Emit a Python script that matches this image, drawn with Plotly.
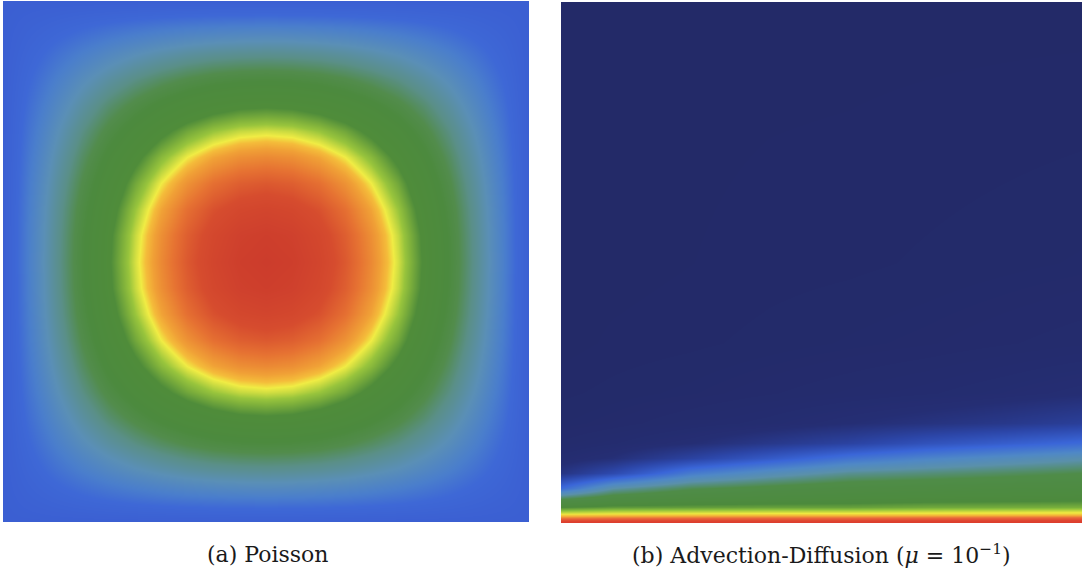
import plotly.graph_objects as go

W, H = 1082, 573

# ---------------- (a) Poisson: normalised solution u/u_max on the unit square
poisson_x = [0, .05, .10, .15, .20, .25, .30, .35, .40, .45, .50, .55, .60, .65, .70, .75, .80, .85, .90, .95, 1.0]
poisson_y = [0, .05, .10, .15, .20, .25, .30, .35, .40, .45, .50, .55, .60, .65, .70, .75, .80, .85, .90, .95, 1.0]
poisson_u = [
    [0, 0,    0,    0,    0,    0,    0,    0,    0,    0,    0,    0,    0,    0,    0,    0,    0,    0,    0,    0,    0],
    [0, .036, .068, .097, .122, .143, .160, .173, .182, .188, .190, .188, .182, .173, .160, .143, .122, .097, .068, .036, 0],
    [0, .068, .130, .184, .230, .270, .302, .328, .346, .356, .360, .356, .346, .328, .302, .270, .230, .184, .130, .068, 0],
    [0, .097, .184, .260, .326, .383, .428, .464, .490, .505, .510, .505, .490, .464, .428, .383, .326, .260, .184, .097, 0],
    [0, .122, .230, .326, .410, .480, .538, .582, .614, .634, .640, .634, .614, .582, .538, .480, .410, .326, .230, .122, 0],
    [0, .143, .270, .383, .480, .563, .630, .683, .720, .743, .750, .743, .720, .683, .630, .563, .480, .383, .270, .143, 0],
    [0, .160, .302, .428, .538, .630, .706, .764, .806, .832, .840, .832, .806, .764, .706, .630, .538, .428, .302, .160, 0],
    [0, .173, .328, .464, .582, .683, .764, .828, .874, .901, .910, .901, .874, .828, .764, .683, .582, .464, .328, .173, 0],
    [0, .182, .346, .490, .614, .720, .806, .874, .922, .950, .960, .950, .922, .874, .806, .720, .614, .490, .346, .182, 0],
    [0, .188, .356, .505, .634, .743, .832, .901, .950, .980, .990, .980, .950, .901, .832, .743, .634, .505, .356, .188, 0],
    [0, .190, .360, .510, .640, .750, .840, .910, .960, .990, 1.00, .990, .960, .910, .840, .750, .640, .510, .360, .190, 0],
    [0, .188, .356, .505, .634, .743, .832, .901, .950, .980, .990, .980, .950, .901, .832, .743, .634, .505, .356, .188, 0],
    [0, .182, .346, .490, .614, .720, .806, .874, .922, .950, .960, .950, .922, .874, .806, .720, .614, .490, .346, .182, 0],
    [0, .173, .328, .464, .582, .683, .764, .828, .874, .901, .910, .901, .874, .828, .764, .683, .582, .464, .328, .173, 0],
    [0, .160, .302, .428, .538, .630, .706, .764, .806, .832, .840, .832, .806, .764, .706, .630, .538, .428, .302, .160, 0],
    [0, .143, .270, .383, .480, .563, .630, .683, .720, .743, .750, .743, .720, .683, .630, .563, .480, .383, .270, .143, 0],
    [0, .122, .230, .326, .410, .480, .538, .582, .614, .634, .640, .634, .614, .582, .538, .480, .410, .326, .230, .122, 0],
    [0, .097, .184, .260, .326, .383, .428, .464, .490, .505, .510, .505, .490, .464, .428, .383, .326, .260, .184, .097, 0],
    [0, .068, .130, .184, .230, .270, .302, .328, .346, .356, .360, .356, .346, .328, .302, .270, .230, .184, .130, .068, 0],
    [0, .036, .068, .097, .122, .143, .160, .173, .182, .188, .190, .188, .182, .173, .160, .143, .122, .097, .068, .036, 0],
    [0, 0,    0,    0,    0,    0,    0,    0,    0,    0,    0,    0,    0,    0,    0,    0,    0,    0,    0,    0,    0],
]

# ---------------- (b) Advection-Diffusion (mu = 1e-1): boundary layer on the bottom wall
adv_x = [0, 0.1, 0.25, 0.4, 0.55, 0.7, 0.85, 1.0]
adv_y = [0, 0.006, 0.012, 0.019, 0.031, 0.048, 0.067, 0.096, 0.125, 0.154, 0.192, 0.25, 0.345, 0.5, 1.0]
adv_u = [
    [1.00, 1.00, 1.00, 1.00, 1.00, 1.00, 1.00, 1.00],
    [0.91, 0.915, 0.92, 0.92, 0.92, 0.925, 0.925, 0.93],
    [0.81, 0.82, 0.825, 0.83, 0.83, 0.835, 0.84, 0.845],
    [0.67, 0.68, 0.685, 0.69, 0.69, 0.695, 0.70, 0.705],
    [0.55, 0.57, 0.575, 0.58, 0.58, 0.59, 0.595, 0.60],
    [0.40, 0.46, 0.49, 0.50, 0.51, 0.52, 0.525, 0.53],
    [0.21, 0.34, 0.41, 0.44, 0.465, 0.475, 0.485, 0.49],
    [0.07, 0.13, 0.25, 0.31, 0.36, 0.38, 0.40, 0.42],
    [0.035, 0.055, 0.11, 0.17, 0.23, 0.27, 0.30, 0.33],
    [0.02, 0.03, 0.05, 0.08, 0.11, 0.15, 0.18, 0.21],
    [0.01, 0.015, 0.025, 0.035, 0.05, 0.065, 0.08, 0.10],
    [0.005, 0.008, 0.012, 0.018, 0.024, 0.03, 0.038, 0.048],
    [0.0, 0.003, 0.005, 0.008, 0.011, 0.014, 0.018, 0.022],
    [0.0, 0.0, 0.002, 0.004, 0.005, 0.007, 0.009, 0.011],
    [0.0, 0.0, 0.0, 0.0, 0.0, 0.0, 0.0, 0.0],
]

captions = ["(a) Poisson", "(b) Advection-Diffusion (<i>μ</i> = 10<sup>−1</sup>)"]

poisson_scale = [
    [0.00, "#3b5fd2"],
    [0.10, "#3e68d6"],
    [0.18, "#4a7ecc"],
    [0.28, "#5a8fb6"],
    [0.38, "#5a8f88"],
    [0.46, "#528c4c"],
    [0.52, "#4c8a3e"],
    [0.65, "#4f8c3a"],
    [0.72, "#98c43c"],
    [0.764, "#f0ec44"],
    [0.785, "#f4bc3a"],
    [0.81, "#f0a036"],
    [0.87, "#e67232"],
    [0.93, "#d64c2e"],
    [1.00, "#cc3c2c"],
]

adv_scale = [
    [0.00, "#232a68"],
    [0.05, "#252e74"],
    [0.12, "#2c46a8"],
    [0.20, "#3a66d8"],
    [0.28, "#4f88c6"],
    [0.34, "#5a90aa"],
    [0.42, "#4f8c48"],
    [0.55, "#4c8a3c"],
    [0.62, "#8cc03c"],
    [0.69, "#eee840"],
    [0.77, "#f4b238"],
    [0.86, "#e8643a"],
    [0.93, "#de4430"],
    [1.00, "#dc3a2c"],
]

fig = go.Figure()
fig.add_trace(go.Heatmap(
    x=poisson_x, y=poisson_y, z=poisson_u, zmin=0, zmax=1,
    colorscale=poisson_scale, zsmooth="best", showscale=False,
    xaxis="x", yaxis="y",
))
fig.add_trace(go.Heatmap(
    x=adv_x, y=adv_y, z=adv_u, zmin=0, zmax=1,
    colorscale=adv_scale, zsmooth="best", showscale=False,
    xaxis="x2", yaxis="y2",
))

hidden = dict(visible=False, showgrid=False, zeroline=False, range=[0, 1])
fig.update_layout(
    width=W, height=H, autosize=False,
    margin=dict(l=0, r=0, t=0, b=0),
    paper_bgcolor="white", plot_bgcolor="white",
    xaxis=dict(domain=[3 / W, 529 / W], anchor="y", **hidden),
    yaxis=dict(domain=[(H - 522) / H, (H - 1) / H], anchor="x", **hidden),
    xaxis2=dict(domain=[561 / W, 1.0], anchor="y2", **hidden),
    yaxis2=dict(domain=[(H - 523) / H, (H - 2) / H], anchor="x2", **hidden),
    showlegend=False,
)

for cx, text in zip([267 / W, 821.5 / W], captions):
    fig.add_annotation(
        x=cx, y=(H - 554) / H, xref="paper", yref="paper",
        text=text, showarrow=False, xanchor="center", yanchor="middle",
        font=dict(family="DejaVu Serif", size=22, color="#1a1a1a"),
    )

fig.write_html("out.html")
